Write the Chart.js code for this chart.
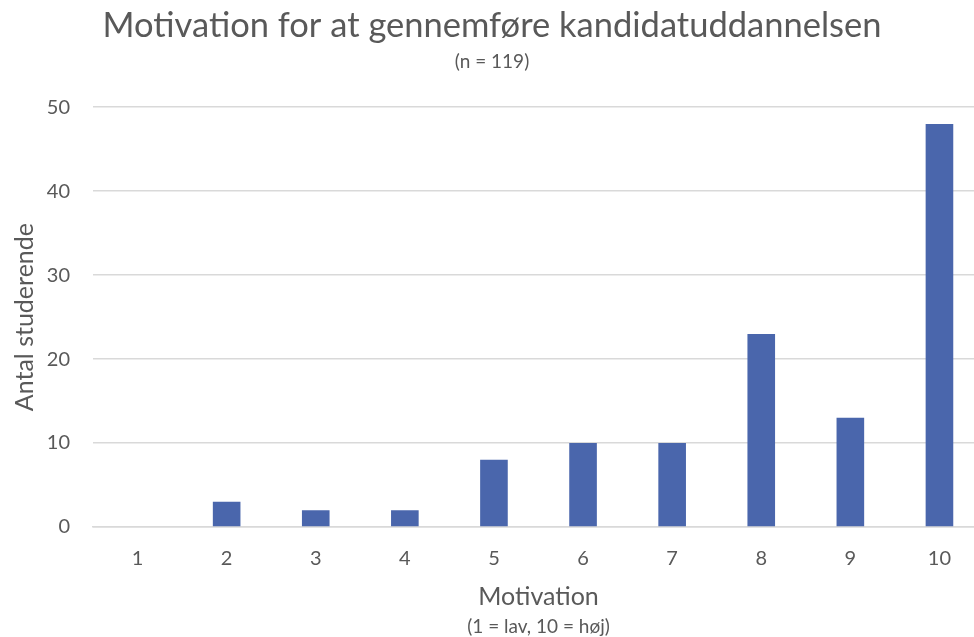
<!DOCTYPE html>
<html>
<head>
<meta charset="utf-8">
<title>Motivation for at gennemføre kandidatuddannelsen</title>
<script src="https://cdn.jsdelivr.net/npm/chart.js@4"></script>
<style>
  html, body { margin: 0; padding: 0; background: #fff; overflow: hidden; }
  #wrap { position: relative; width: 984px; height: 637px; }
</style>
</head>
<body>
<div id="wrap"><canvas id="chart"></canvas></div>
<script>
/* Motivation chart */

const CATEGORIES = ['1', '2', '3', '4', '5', '6', '7', '8', '9', '10'];
const STUDENTS   = [0, 3, 2, 2, 8, 10, 10, 23, 13, 48];
const Y_TICKS    = [0, 10, 20, 30, 40, 50];

const TXT   = '#595959';
const FONT  = 'Lato, "Open Sans", sans-serif';
const X_SUB = '(1 = lav, 10 = høj)';

/* small caption under the x axis title */
const xSubPlugin = {
  id: 'xSub',
  afterDraw(chart) {
    const c = chart.ctx;
    const x = chart.scales.x;
    c.save();
    c.fillStyle = TXT;
    c.font = `19px ${FONT}`;
    c.textAlign = 'center';
    c.textBaseline = 'middle';
    c.fillText(X_SUB, (x.left + x.right) / 2, 627);
    c.restore();
  },
};

const ctx = document.getElementById('chart').getContext('2d');
new Chart(ctx, {
  type: 'bar',
  data: {
    labels: CATEGORIES,
    datasets: [{
      label: 'Antal studerende',
      data: STUDENTS,
      backgroundColor: '#4a66ac',
      categoryPercentage: 1,
      barPercentage: 0.31,
    }],
  },
  options: {
    responsive: true,
    maintainAspectRatio: false,
    animation: false,
    layout: { padding: { top: 0, right: 0, bottom: 22, left: 0 } },
    plugins: {
      legend: { display: false },
      tooltip: { enabled: false },
      title: {
        display: true,
        text: 'Motivation for at gennemføre kandidatuddannelsen',
        color: TXT,
        font: { family: FONT, size: 34.5, weight: 'normal' },
        padding: { top: 5, bottom: 2 },
      },
      subtitle: {
        display: true,
        text: '(n = 119)',
        color: TXT,
        font: { family: FONT, size: 19 },
        padding: { top: 2, bottom: 34 },
      },
    },
    scales: {
      x: {
        afterFit: s => { s.height = 88; },
        grid: { display: false, drawTicks: false },
        border: { display: true, color: '#d9d9d9', width: 1.5 },
        ticks: { color: TXT, font: { family: FONT, size: 20 }, padding: 20 },
        title: {
          display: true, text: 'Motivation', color: TXT,
          font: { family: FONT, size: 25 }, padding: { top: 10, bottom: 3 },
        },
      },
      y: {
        min: 0,
        max: 50,
        afterBuildTicks: s => { s.ticks = Y_TICKS.map(v => ({ value: v })); },
        afterFit: s => { s.width = 93; },
        grid: { color: '#d9d9d9', lineWidth: 1.5, drawTicks: false },
        border: { display: false },
        ticks: { color: TXT, font: { family: FONT, size: 20 }, padding: 23 },
        title: {
          display: true, text: 'Antal studerende', color: TXT,
          font: { family: FONT, size: 25 }, padding: { top: 10, bottom: 0 },
        },
      },
    },
  },
  plugins: [xSubPlugin],
});
</script>
</body>
</html>
